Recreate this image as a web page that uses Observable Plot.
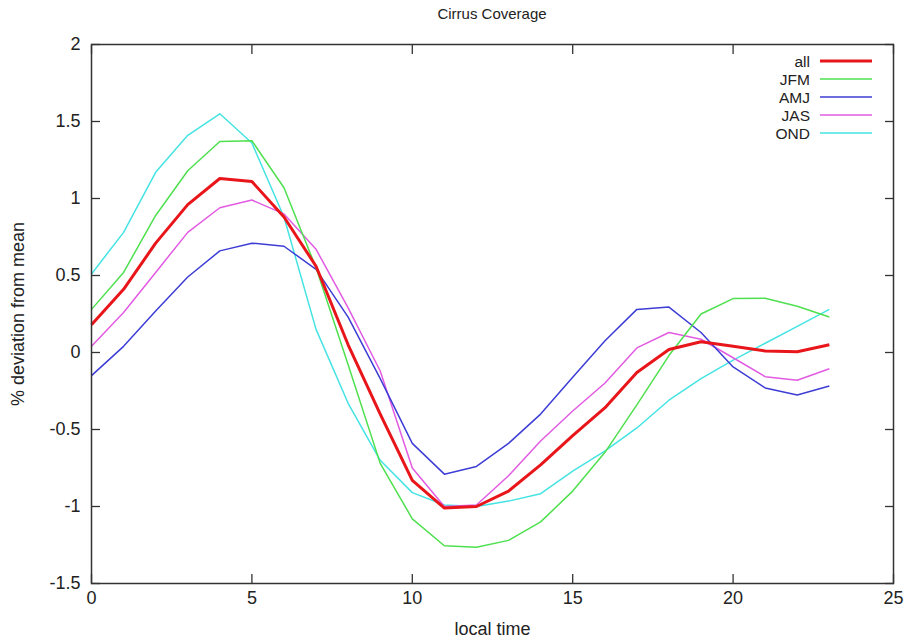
<!DOCTYPE html>
<html>
<head>
<meta charset="utf-8">
<script src="https://cdn.jsdelivr.net/npm/d3@7"></script>
<script src="https://cdn.jsdelivr.net/npm/@observablehq/plot@0.6"></script>
<style>
  html, body { margin: 0; padding: 0; background: #fff; }
  #chart { width: 907px; height: 640px; }
  svg { font-family: "Liberation Sans", Arial, Helvetica, sans-serif; }
</style>
</head>
<body>
<div id="chart"></div>
<script>
// ---- data ----
const hours = [0,1,2,3,4,5,6,7,8,9,10,11,12,13,14,15,16,17,18,19,20,21,22,23];
const seriesNames = ["all", "JFM", "AMJ", "JAS", "OND"];
const seriesColors = ["#e8161a", "#4ee04e", "#3d3dd6", "#e25be2", "#45e3e3"];
const seriesWidths = [3, 1.5, 1.5, 1.5, 1.5];
const allValues = [0.18, 0.41, 0.71, 0.96, 1.13, 1.11, 0.88, 0.56, 0.05, -0.40, -0.83, -1.01, -1.00, -0.90, -0.73, -0.54, -0.36, -0.13, 0.02, 0.07, 0.04, 0.01, 0.005, 0.05];
const jfmValues = [0.28, 0.52, 0.89, 1.18, 1.37, 1.375, 1.07, 0.55, -0.08, -0.72, -1.08, -1.255, -1.265, -1.22, -1.10, -0.90, -0.65, -0.34, -0.02, 0.25, 0.35, 0.352, 0.30, 0.23];
const amjValues = [-0.15, 0.04, 0.27, 0.49, 0.66, 0.71, 0.69, 0.54, 0.23, -0.17, -0.59, -0.79, -0.74, -0.59, -0.40, -0.16, 0.075, 0.28, 0.295, 0.13, -0.094, -0.23, -0.276, -0.217];
const jasValues = [0.04, 0.26, 0.52, 0.78, 0.94, 0.99, 0.90, 0.67, 0.29, -0.12, -0.75, -1.00, -0.99, -0.80, -0.575, -0.38, -0.20, 0.03, 0.13, 0.086, -0.034, -0.157, -0.18, -0.105];
const ondValues = [0.51, 0.78, 1.17, 1.41, 1.55, 1.36, 0.88, 0.15, -0.33, -0.70, -0.91, -0.99, -1.00, -0.965, -0.917, -0.77, -0.64, -0.49, -0.31, -0.17, -0.05, 0.06, 0.17, 0.28];
const xTicks = [0, 5, 10, 15, 20, 25];
const yTicks = [-1.5, -1, -0.5, 0, 0.5, 1, 1.5, 2];
const titleText = "Cirrus Coverage";
const xLabel = "local time";
const yLabel = "% deviation from mean";

const valueLists = [allValues, jfmValues, amjValues, jasValues, ondValues];
const rows = [];
seriesNames.forEach((name, s) => {
  hours.forEach((h, i) => rows.push({series: name, hour: h, value: valueLists[s][i]}));
});

const W = 907, H = 640;
const mL = 91, mR = 14, mT = 44, mB = 57;
const tick = 9;
const fmt = d => String(d);

const lineMarks = seriesNames.slice().reverse().map(name => {
  const s = seriesNames.indexOf(name);
  return Plot.line(rows.filter(r => r.series === name), {
    x: "hour", y: "value", stroke: seriesColors[s], strokeWidth: seriesWidths[s],
    strokeLinejoin: "round", strokeLinecap: "butt"
  });
});

const chart = Plot.plot({
  width: W, height: H,
  marginLeft: mL, marginRight: mR, marginTop: mT, marginBottom: mB,
  style: {fontFamily: '"Liberation Sans", Arial, Helvetica, sans-serif', fontSize: "18px", color: "#222", background: "#fff"},
  x: {domain: [0, 25], ticks: xTicks},
  y: {domain: [-1.5, 2], ticks: yTicks},
  marks: [
    ...lineMarks,
    Plot.frame({stroke: "#333", strokeWidth: 1.5}),
    Plot.axisX(xTicks, {anchor: "bottom", tickSize: -tick, tickPadding: tick + 8, tickFormat: fmt, stroke: "#333", strokeWidth: 1.3,
      fontSize: 18, label: xLabel, labelAnchor: "center", labelArrow: "none", labelOffset: 51, fill: "#222"}),
    Plot.axisX(xTicks, {anchor: "top", tickSize: -tick, tickFormat: () => "", stroke: "#333", strokeWidth: 1.3, label: null}),
    Plot.axisY(yTicks, {anchor: "left", tickSize: -tick, tickPadding: tick + 11, tickFormat: fmt, stroke: "#333", strokeWidth: 1.3,
      fontSize: 18, label: yLabel, labelAnchor: "center", labelArrow: "none", labelOffset: 80, fill: "#222"}),
    Plot.axisY(yTicks, {anchor: "right", tickSize: -tick, tickFormat: () => "", stroke: "#333", strokeWidth: 1.3, label: null})
  ]
});

document.getElementById("chart").appendChild(chart);

// title and legend (annotation, pixel placed)
const svg = d3.select(chart);
svg.append("text")
  .attr("x", (mL + (W - mR)) / 2).attr("y", 19)
  .attr("text-anchor", "middle")
  .attr("font-size", 15).attr("fill", "#222")
  .text(titleText);

const leg = svg.append("g").attr("font-size", 15.5).attr("fill", "#222");
seriesNames.forEach((name, s) => {
  const y = 61 + s * 18;
  leg.append("text").attr("x", 810).attr("y", y).attr("dy", "0.36em")
    .attr("text-anchor", "end").text(name);
  leg.append("line").attr("x1", 820).attr("x2", 872).attr("y1", y).attr("y2", y)
    .attr("stroke", seriesColors[s]).attr("stroke-width", seriesWidths[s]);
});
</script>
</body>
</html>
